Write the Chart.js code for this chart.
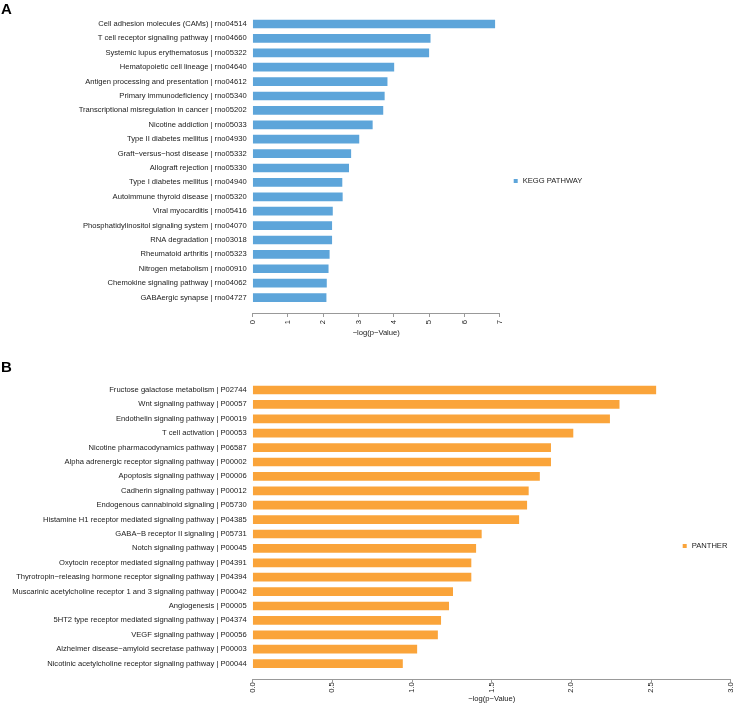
<!DOCTYPE html>
<html><head><meta charset="utf-8">
<script src="https://cdn.jsdelivr.net/npm/chart.js@4/dist/chart.umd.min.js"></script>
<style>
html,body{margin:0;padding:0;background:#fff;}
#wrap{position:relative;width:734px;height:703px;}
canvas{position:absolute;left:0;}
#c1{top:0;} #c2{top:350px;}
</style></head><body>
<div id="wrap"><canvas id="c1" width="734" height="350"></canvas><canvas id="c2" width="734" height="353"></canvas></div>
<script>
const keggCategories = [
  "Cell adhesion molecules (CAMs) | rno04514",
  "T cell receptor signaling pathway | rno04660",
  "Systemic lupus erythematosus | rno05322",
  "Hematopoietic cell lineage | rno04640",
  "Antigen processing and presentation | rno04612",
  "Primary immunodeficiency | rno05340",
  "Transcriptional misregulation in cancer | rno05202",
  "Nicotine addiction | rno05033",
  "Type II diabetes mellitus | rno04930",
  "Graft\u2212versus\u2212host disease | rno05332",
  "Allograft rejection | rno05330",
  "Type I diabetes mellitus | rno04940",
  "Autoimmune thyroid disease | rno05320",
  "Viral myocarditis | rno05416",
  "Phosphatidylinositol signaling system | rno04070",
  "RNA degradation | rno03018",
  "Rheumatoid arthritis | rno05323",
  "Nitrogen metabolism | rno00910",
  "Chemokine signaling pathway | rno04062",
  "GABAergic synapse | rno04727"
];
const keggValues = [6.86, 5.03, 4.99, 4.00, 3.81, 3.73, 3.69, 3.39, 3.01, 2.78,
                    2.72, 2.53, 2.54, 2.26, 2.24, 2.24, 2.17, 2.14, 2.09, 2.08];
const keggTicks = [0, 1, 2, 3, 4, 5, 6, 7];

const pantherCategories = [
  "Fructose galactose metabolism | P02744",
  "Wnt signaling pathway | P00057",
  "Endothelin signaling pathway | P00019",
  "T cell activation | P00053",
  "Nicotine pharmacodynamics pathway | P06587",
  "Alpha adrenergic receptor signaling pathway | P00002",
  "Apoptosis signaling pathway | P00006",
  "Cadherin signaling pathway | P00012",
  "Endogenous cannabinoid signaling | P05730",
  "Histamine H1 receptor mediated signaling pathway | P04385",
  "GABA\u2212B receptor II signaling | P05731",
  "Notch signaling pathway | P00045",
  "Oxytocin receptor mediated signaling pathway | P04391",
  "Thyrotropin\u2212releasing hormone receptor signaling pathway | P04394",
  "Muscarinic acetylcholine receptor 1 and 3 signaling pathway | P00042",
  "Angiogenesis | P00005",
  "5HT2 type receptor mediated signaling pathway | P04374",
  "VEGF signaling pathway | P00056",
  "Alzheimer disease\u2212amyloid secretase pathway | P00003",
  "Nicotinic acetylcholine receptor signaling pathway | P00044"
];
const pantherValues = [2.53, 2.30, 2.24, 2.01, 1.87, 1.87, 1.80, 1.73, 1.72, 1.67,
                       1.435, 1.40, 1.37, 1.37, 1.255, 1.23, 1.18, 1.16, 1.03, 0.94];
const pantherTicks = [0, 0.5, 1.0, 1.5, 2.0, 2.5, 3.0];

const FONT = '"Liberation Sans", Arial, Helvetica, sans-serif';
const TXT = '#1a1a1a';
const FS = 7.6;

const decor = {
  id: 'decor',
  afterDraw(chart, args, opts) {
    const ctx = chart.ctx;
    ctx.save();
    ctx.fillStyle = '#000';
    ctx.font = 'bold 15px ' + FONT;
    ctx.textBaseline = 'alphabetic';
    ctx.textAlign = 'left';
    ctx.fillText(opts.panel, opts.panelX, opts.panelY);
    const ds = chart.data.datasets[0];
    ctx.fillStyle = ds.backgroundColor;
    ctx.fillRect(opts.legendX - 2, opts.legendY - 2, 4, 4);
    ctx.fillStyle = TXT;
    ctx.font = FS + 'px ' + FONT;
    ctx.textBaseline = 'middle';
    ctx.fillText(ds.label, opts.legendX + 7, opts.legendY);
    ctx.restore();
  }
};

function makeChart(id, cats, vals, ticks, label, color, fmt, g) {
  return new Chart(document.getElementById(id), {
    type: 'bar',
    data: {
      datasets: [{
        label: label,
        data: vals.map((v, i) => ({ x: v, y: i })),
        backgroundColor: color,
        borderWidth: 0,
        barThickness: 8
      }]
    },
    options: {
      indexAxis: 'y',
      responsive: false,
      animation: false,
      layout: { padding: g.padding },
      plugins: {
        legend: { display: false },
        tooltip: { enabled: false },
        decor: g.decor
      },
      scales: {
        y: {
          type: 'linear',
          bounds: 'data',
          offset: false,
          reverse: true,
          min: -0.5,
          max: g.ymax,
          afterBuildTicks: s => { s.ticks = cats.map((c, i) => ({ value: i })); },
          afterFit: s => { s.width = g.yWidth; s.paddingTop = 0; s.paddingBottom = 0; },
          grid: { display: false, drawTicks: false, offset: false },
          border: { display: false },
          ticks: {
            autoSkip: false,
            padding: 6,
            color: TXT,
            font: { family: FONT, size: FS },
            callback: v => (cats[v] !== undefined ? cats[v] : '')
          }
        },
        x: {
          type: 'linear',
          bounds: 'data',
          offset: false,
          min: ticks[0],
          max: ticks[ticks.length - 1],
          afterBuildTicks: s => { s.ticks = ticks.map(v => ({ value: v })); },
          afterFit: s => { s.height = g.xHeight; s.paddingLeft = 0; s.paddingRight = 0; },
          grid: { drawOnChartArea: false, drawTicks: true, tickLength: g.tickLen, color: '#999' },
          border: { display: true, color: '#999' },
          ticks: {
            autoSkip: false,
            minRotation: 90,
            maxRotation: 90,
            padding: g.tickPad,
            color: TXT,
            font: { family: FONT, size: FS },
            callback: v => fmt(v)
          },
          title: {
            display: true,
            text: '\u2212log(p\u2212Value)',
            color: TXT,
            font: { family: FONT, size: FS, lineHeight: 1 },
            padding: 0
          }
        }
      }
    },
    plugins: [decor]
  });
}

makeChart('c1', keggCategories, keggValues, keggTicks, 'KEGG PATHWAY', '#5DA5DA',
  v => String(v),
  {
    padding: { left: 0, right: 234.3, top: 16.8, bottom: 13.3 },
    ymax: 20.07, yWidth: 252.7, xHeight: 23.7, tickLen: 4, tickPad: 3,
    decor: { panel: 'A', panelX: 1, panelY: 14, legendX: 515.7, legendY: 181 }
  });

makeChart('c2', pantherCategories, pantherValues, pantherTicks, 'PANTHER', '#FAA43A',
  v => v.toFixed(1),
  {
    padding: { left: 0, right: 3.3, top: 32.8, bottom: 0.3 },
    ymax: 20.09, yWidth: 252.7, xHeight: 23.4, tickLen: 3, tickPad: 0,
    decor: { panel: 'B', panelX: 1, panelY: 22, legendX: 684.7, legendY: 196 }
  });
</script>
</body></html>
